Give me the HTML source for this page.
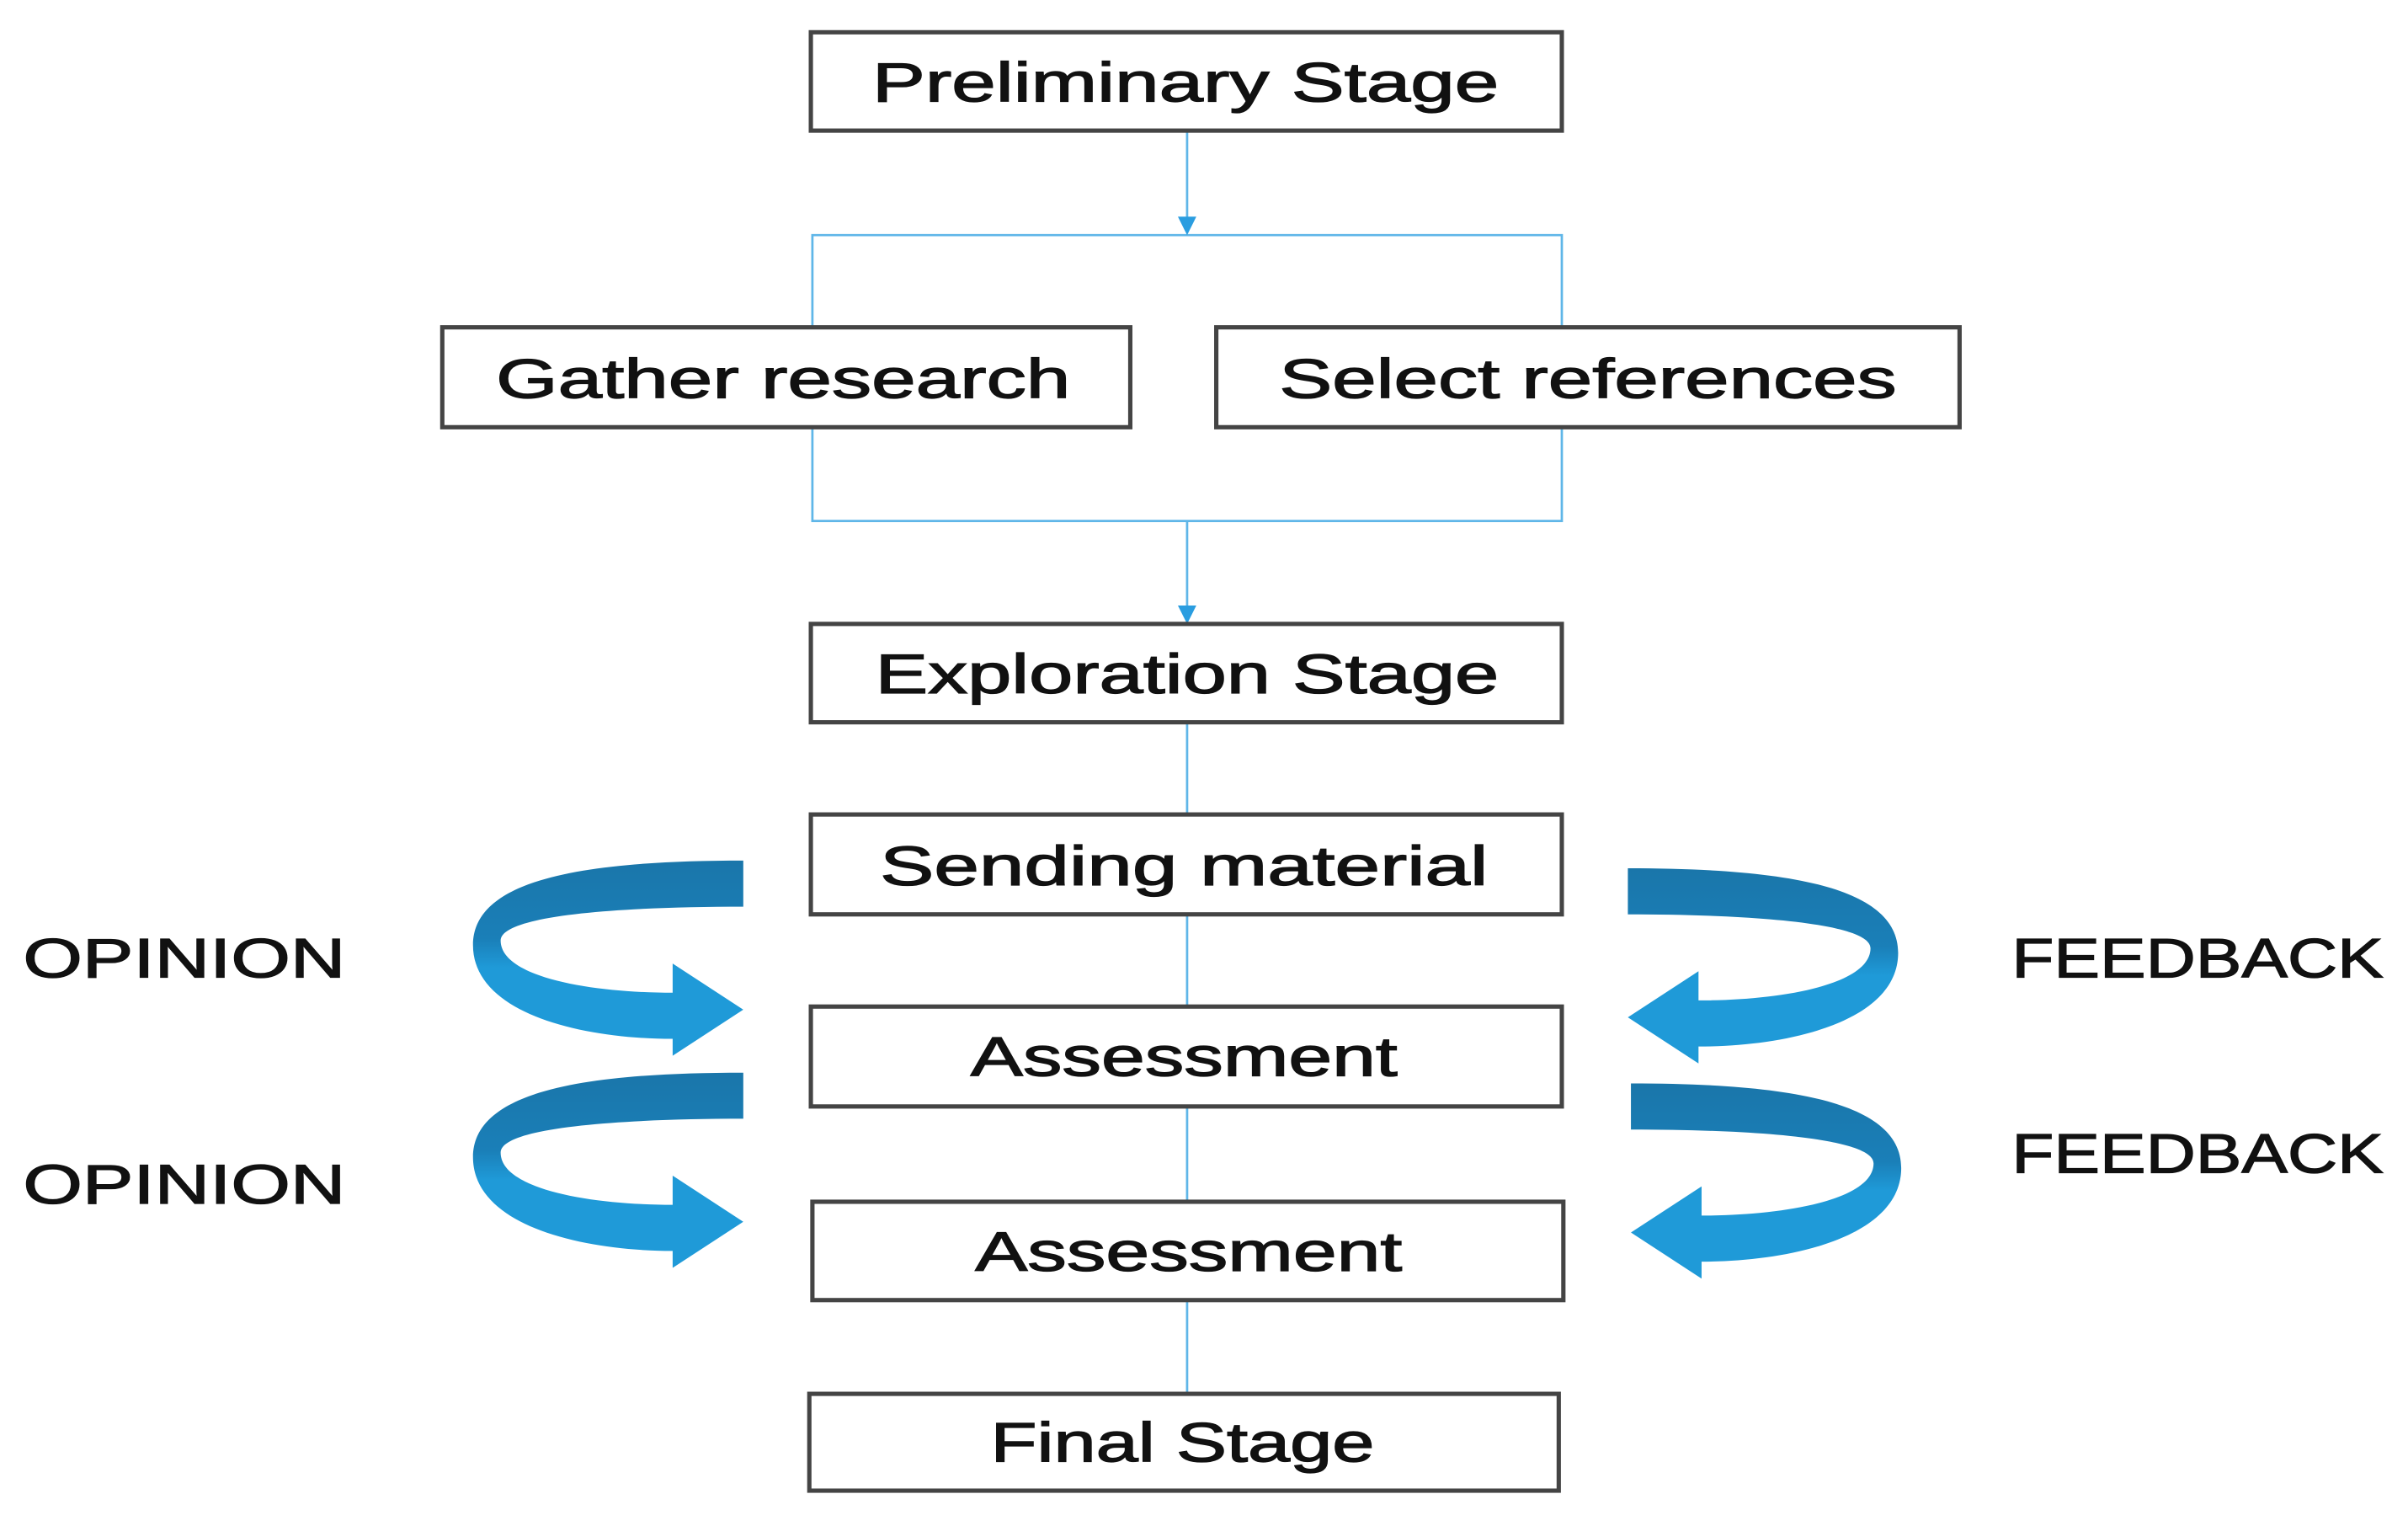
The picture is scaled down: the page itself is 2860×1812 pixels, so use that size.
<!DOCTYPE html>
<html><head><meta charset="utf-8"><style>html,body{margin:0;padding:0;background:#fff}svg{display:block}</style></head>
<body>
<svg width="2860" height="1812" viewBox="0 0 1568 993" preserveAspectRatio="none" xmlns="http://www.w3.org/2000/svg">
<defs>
<linearGradient id="g" x1="0" y1="0" x2="0" y2="1">
<stop offset="0" stop-color="#1a76aa"/><stop offset="0.4" stop-color="#1a7fb8"/><stop offset="0.55" stop-color="#1f9ad8"/><stop offset="1" stop-color="#1f9ad8"/>
</linearGradient>
<g id="arr"><path d="M484,560 C380,560 308,572 308,615 C308,660 380,676 438,676 L438,687 L484,657 L438,627 L438,646 C385,646 326,636 326,612 C326,596 400,590 484,590 Z" fill="url(#g)"/></g>
</defs>
<g stroke="#5fb6e8" stroke-width="1.5" fill="none">
<line x1="773" y1="85" x2="773" y2="150"/>
<polyline points="529,213 529,153 1017,153 1017,213"/>
<polyline points="529,278 529,339 1017,339 1017,278"/>
<line x1="773" y1="339" x2="773" y2="404"/>
<line x1="773" y1="470" x2="773" y2="907"/>
</g>
<path d="M767,141 L779,141 L773,153 Z" fill="#2a9de0"/>
<path d="M767,394 L779,394 L773,406 Z" fill="#2a9de0"/>
<g fill="#fff" stroke="#444" stroke-width="2.8">
<rect x="528" y="21" width="489" height="64"/>
<rect x="288" y="213" width="448" height="65"/>
<rect x="792" y="213" width="484" height="65"/>
<rect x="528" y="406" width="489" height="64"/>
<rect x="528" y="530" width="489" height="65"/>
<rect x="528" y="655" width="489" height="65"/>
<rect x="529" y="782" width="489" height="64"/>
<rect x="527" y="907" width="488" height="63"/>
</g>
<use href="#arr"/>
<use href="#arr" transform="translate(0,138)"/>
<use href="#arr" transform="translate(1544,5) scale(-1,1)"/>
<use href="#arr" transform="translate(1546,145) scale(-1,1)"/>
<g font-family="Liberation Sans, sans-serif" font-size="36" fill="#111" stroke="#111" stroke-width="0.7" text-anchor="middle">
<text x="772" y="66" textLength="408" lengthAdjust="spacingAndGlyphs">Preliminary Stage</text>
<text x="510" y="259" textLength="374" lengthAdjust="spacingAndGlyphs">Gather research</text>
<text x="1034" y="259" textLength="402" lengthAdjust="spacingAndGlyphs">Select references</text>
<text x="773" y="451" textLength="406" lengthAdjust="spacingAndGlyphs">Exploration Stage</text>
<text x="771" y="576" textLength="396" lengthAdjust="spacingAndGlyphs">Sending material</text>
<text x="771" y="700" textLength="278" lengthAdjust="spacingAndGlyphs">Assessment</text>
<text x="774" y="827" textLength="278" lengthAdjust="spacingAndGlyphs">Assessment</text>
<text x="770" y="951" textLength="250" lengthAdjust="spacingAndGlyphs">Final Stage</text>
<text x="120" y="636" textLength="210" lengthAdjust="spacingAndGlyphs">OPINION</text>
<text x="120" y="783" textLength="210" lengthAdjust="spacingAndGlyphs">OPINION</text>
<text x="1431" y="636" textLength="242" lengthAdjust="spacingAndGlyphs">FEEDBACK</text>
<text x="1431" y="763" textLength="242" lengthAdjust="spacingAndGlyphs">FEEDBACK</text>
</g>
</svg>
</body></html>
